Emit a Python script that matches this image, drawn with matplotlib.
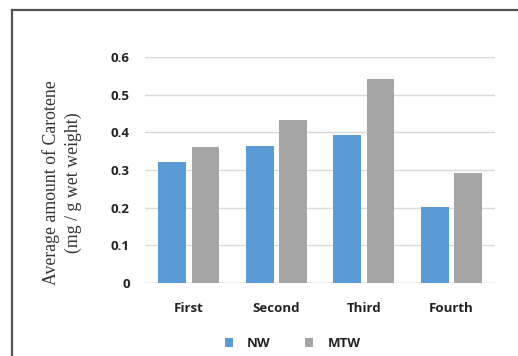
import matplotlib.pyplot as plt
import numpy as np
from matplotlib.lines import Line2D
from matplotlib.patches import Patch

# carotene content per harvest
categories = ['First', 'Second', 'Third', 'Fourth']
nw_values = [0.32, 0.363, 0.393, 0.201]
mtw_values = [0.362, 0.432, 0.541, 0.291]
series_names = ['NW', 'MTW']
y_ticks = [0, 0.1, 0.2, 0.3, 0.4, 0.5, 0.6]
y_tick_labels = ['0', '0.1', '0.2', '0.3', '0.4', '0.5', '0.6']

blue = '#5b9bd5'
grey = '#a5a5a5'
tick_font = {'family': 'Open Sans', 'weight': 'bold', 'size': 9.5}

fig = plt.figure(figsize=(5.18, 3.56), dpi=100)
ax = fig.add_axes([0.28, 0.205, 0.676, 0.635])

x = np.arange(len(categories))
w = 0.315
off = 0.19
ax.bar(x - off, nw_values, width=w, color=blue, zorder=3)
ax.bar(x + off, mtw_values, width=w, color=grey, zorder=3)

ax.set_xlim(-0.5, len(categories) - 0.5)
ax.set_ylim(0, 0.6)
ax.set_yticks(y_ticks)
ax.set_yticklabels(y_tick_labels, fontdict=tick_font, color='#222222')
ax.set_xticks(x)
ax.set_xticklabels(categories, fontdict=tick_font, color='#222222')
ax.tick_params(axis='y', length=0, pad=11)
ax.tick_params(axis='x', length=0, pad=14)
ax.grid(axis='y', color='#d9d9d9', linewidth=1, zorder=0)
ax.axhline(0, color='#d9d9d9', linewidth=1, zorder=1)
for s in ax.spines.values():
    s.set_visible(False)

fig.text(0.12, 0.486, 'Average amount of Carotene\n(mg / g wet weight)',
         rotation=90, ha='center', va='center', family='Liberation Serif',
         fontsize=12.8, linespacing=1.35, color='#333333')

handles = [Patch(facecolor=blue, edgecolor='none'),
           Patch(facecolor=grey, edgecolor='none')]
leg = fig.legend(handles, series_names, loc='center', bbox_to_anchor=(0.565, 0.035),
                 ncol=2, frameon=False, handlelength=0.6, handleheight=0.6,
                 handletextpad=1.1, columnspacing=2.6,
                 prop={'family': 'Open Sans', 'weight': 'bold', 'size': 9.5})
for t in leg.get_texts():
    t.set_color('#222222')

# outer frame, left and top edges only
fig.add_artist(Line2D([12 / 518, 12 / 518], [0, 1 - 10 / 356],
                      transform=fig.transFigure, color='#555555', linewidth=1.6))
fig.add_artist(Line2D([12 / 518, 1], [1 - 10 / 356, 1 - 10 / 356],
                      transform=fig.transFigure, color='#555555', linewidth=1.6))

fig.savefig('out.png', dpi=100)
